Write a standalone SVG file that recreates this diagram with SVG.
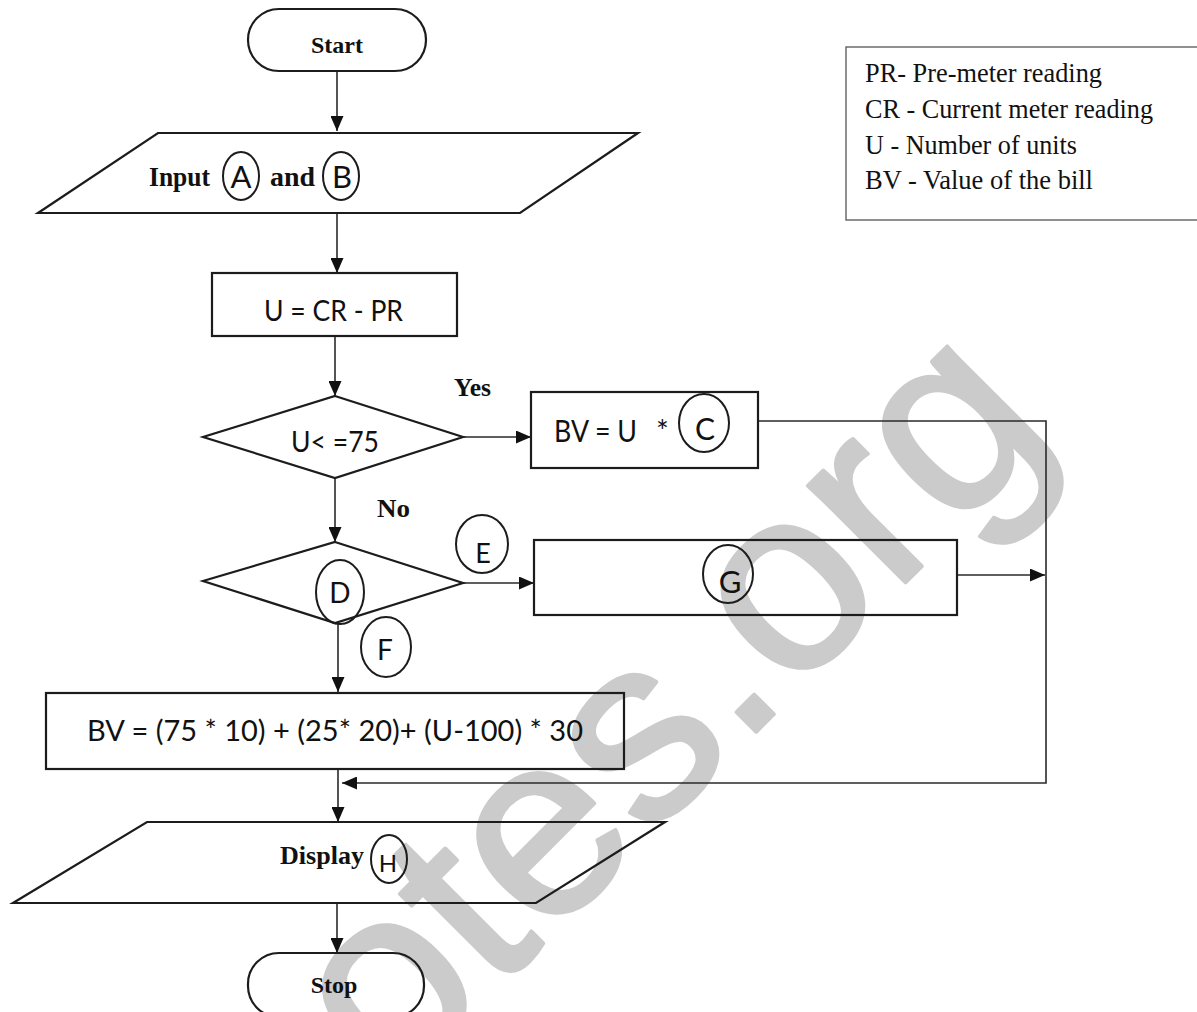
<svg xmlns="http://www.w3.org/2000/svg" width="1197" height="1012" viewBox="0 0 1197 1012">
<defs>
<style>
.shape{fill:none;stroke:#1c1c1c;stroke-width:2.2}
.circ{fill:none;stroke:#1c1c1c;stroke-width:2}
.conn{fill:none;stroke:#2a2a2a;stroke-width:1.6}
.bold{font-family:"Liberation Serif","Times New Roman",serif;font-weight:bold;fill:#111}
.leg{font-family:"Liberation Serif","Times New Roman",serif;font-size:28px;fill:#111}
.sans{font-family:Lato,"Open Sans","Liberation Sans",sans-serif;fill:#111}
.wm{font-family:"Liberation Sans",Arial,sans-serif;font-size:260px;fill:#cbcbcb;stroke:#cbcbcb;stroke-width:4;stroke-linejoin:round}
</style>
<marker id="arr" markerUnits="userSpaceOnUse" markerWidth="15" markerHeight="13" refX="15" refY="6.5" orient="auto">
<path d="M0,0 L15,6.5 L0,13 z" fill="#111"/>
</marker>
</defs>
<rect width="1197" height="1012" fill="#fff"/>
<g id="watermark">
<text class="wm" transform="translate(392,1096) rotate(-45)" x="0" y="0">otes.org</text>
</g>
<g id="legend">
<rect x="846" y="47" width="360" height="173" fill="none" stroke="#555" stroke-width="1.3"/>
<text class="leg" x="865" y="82" textLength="237" lengthAdjust="spacingAndGlyphs">PR- Pre-meter reading</text>
<text class="leg" x="865" y="118" textLength="288" lengthAdjust="spacingAndGlyphs">CR - Current meter reading</text>
<text class="leg" x="865" y="154" textLength="212" lengthAdjust="spacingAndGlyphs">U - Number of units</text>
<text class="leg" x="865" y="189" textLength="228" lengthAdjust="spacingAndGlyphs">BV - Value of the bill</text>
</g>
<g id="connectors">
<path class="conn" d="M337,71 V131" marker-end="url(#arr)"/>
<path class="conn" d="M337,213 V273" marker-end="url(#arr)"/>
<path class="conn" d="M335,336 V396" marker-end="url(#arr)"/>
<path class="conn" d="M463,437 H531" marker-end="url(#arr)"/>
<path class="conn" d="M335,478 V542" marker-end="url(#arr)"/>
<path class="conn" d="M463,583 H534" marker-end="url(#arr)"/>
<path class="conn" d="M338,623 V692" marker-end="url(#arr)"/>
<path class="conn" d="M758,421 H1046 V783 H342" marker-end="url(#arr)"/>
<path class="conn" d="M957,575 H1045" marker-end="url(#arr)"/>
<path class="conn" d="M338,769 V822" marker-end="url(#arr)"/>
<path class="conn" d="M337,903 V953" marker-end="url(#arr)"/>
</g>
<g id="start">
<rect class="shape" x="248" y="9" width="178" height="62" rx="31"/>
<text class="bold" x="337" y="53" font-size="24" text-anchor="middle">Start</text>
</g>
<g id="input">
<polygon class="shape" points="158,133 638,133 520,213 38,213"/>
<text class="bold" x="149" y="186" font-size="27" textLength="61" lengthAdjust="spacingAndGlyphs">Input</text>
<ellipse class="circ" cx="241" cy="176" rx="18" ry="24"/>
<text class="sans" x="241" y="188" font-size="31" text-anchor="middle">A</text>
<text class="bold" x="270" y="186" font-size="27" textLength="45" lengthAdjust="spacingAndGlyphs">and</text>
<ellipse class="circ" cx="341" cy="176" rx="18" ry="24"/>
<text class="sans" x="342" y="188" font-size="31" text-anchor="middle">B</text>
</g>
<g id="calc-units">
<rect class="shape" x="212" y="273" width="245" height="63"/>
<text class="sans" x="264" y="321" font-size="29" textLength="139" lengthAdjust="spacingAndGlyphs">U = CR - PR</text>
</g>
<g id="decision1">
<polygon class="shape" points="335,396 463,437 335,478 203,437"/>
<text class="sans" x="291" y="452" font-size="28" textLength="88" lengthAdjust="spacingAndGlyphs">U&lt; =75</text>
<text class="bold" x="454" y="396" font-size="25" textLength="37" lengthAdjust="spacingAndGlyphs">Yes</text>
<text class="bold" x="377" y="517" font-size="26" textLength="33" lengthAdjust="spacingAndGlyphs">No</text>
</g>
<g id="bv-low">
<rect class="shape" x="531" y="392" width="227" height="76"/>
<text class="sans" x="554" y="442" font-size="30" textLength="83" lengthAdjust="spacingAndGlyphs">BV = U</text>
<text class="sans" x="656" y="442" font-size="30">*</text>
<ellipse class="circ" cx="704" cy="423" rx="25" ry="29"/>
<text class="sans" x="705" y="440" font-size="30" text-anchor="middle">C</text>
</g>
<g id="decision2">
<polygon class="shape" points="335,542 463,583 335,623 203,581"/>
<ellipse class="circ" cx="340" cy="592" rx="24" ry="32"/>
<text class="sans" x="340" y="603" font-size="28" text-anchor="middle">D</text>
<ellipse class="circ" cx="482" cy="544" rx="26" ry="29"/>
<text class="sans" x="483" y="563" font-size="27" text-anchor="middle">E</text>
<ellipse class="circ" cx="386" cy="647" rx="25" ry="30"/>
<text class="sans" x="385" y="660" font-size="28" text-anchor="middle">F</text>
</g>
<g id="bv-mid">
<rect class="shape" x="534" y="540" width="423" height="75"/>
<ellipse class="circ" cx="728" cy="574" rx="25" ry="29"/>
<text class="sans" x="730" y="593" font-size="31" text-anchor="middle">G</text>
</g>
<g id="bv-high">
<rect class="shape" x="46" y="693" width="578" height="76"/>
<text class="sans" x="87" y="741" font-size="29" textLength="496" lengthAdjust="spacingAndGlyphs">BV = (75 * 10) + (25* 20)+ (U-100) * 30</text>
</g>
<g id="display">
<polygon class="shape" points="147,822 665,822 536,903 13,903"/>
<text class="bold" x="280" y="864" font-size="26" textLength="84" lengthAdjust="spacingAndGlyphs">Display</text>
<ellipse class="circ" cx="389" cy="859" rx="18" ry="24"/>
<text class="sans" x="388" y="872" font-size="24" text-anchor="middle">H</text>
</g>
<g id="stop">
<rect class="shape" x="248" y="953" width="176" height="64" rx="31"/>
<text class="bold" x="334" y="993" font-size="24" text-anchor="middle">Stop</text>
</g>
</svg>
